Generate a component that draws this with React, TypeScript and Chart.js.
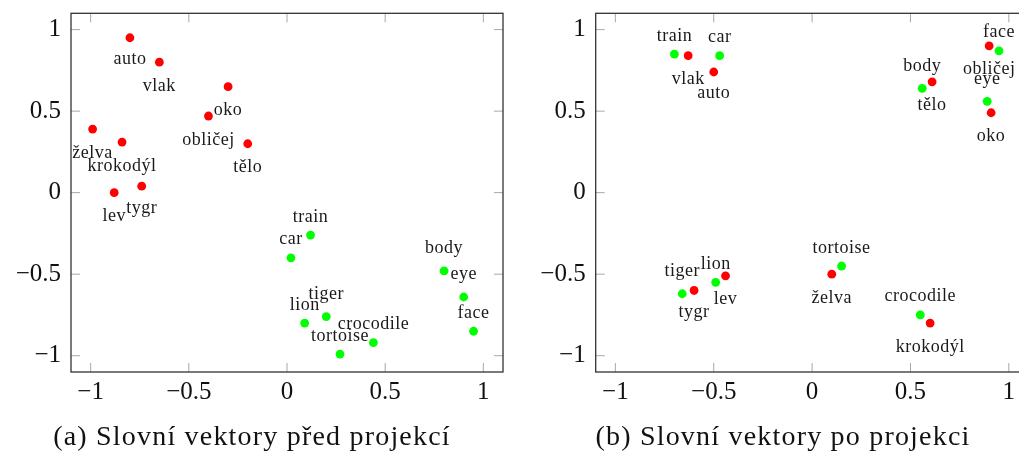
import React, { useEffect, useRef } from "react";
import { Chart, registerables } from "chart.js";

Chart.register(...registerables);

// ---- axis ticks ----
const tickValues = [-1, -0.5, 0, 0.5, 1];
const axisMin = -1.1;
const axisMax = 1.1;

// ---- (a) word vectors before projection ----
const beforeCzechWords = ["auto", "vlak", "oko", "obličej", "tělo", "želva", "krokodýl", "lev", "tygr"];
const beforeCzechX = [-0.8, -0.65, -0.3, -0.4, -0.2, -0.99, -0.84, -0.88, -0.74];
const beforeCzechY = [0.95, 0.8, 0.65, 0.47, 0.3, 0.39, 0.31, 0.0, 0.04];

const beforeEnglishWords = ["train", "car", "body", "eye", "face", "lion", "tiger", "crocodile", "tortoise"];
const beforeEnglishX = [0.12, 0.02, 0.8, 0.9, 0.95, 0.09, 0.2, 0.44, 0.27];
const beforeEnglishY = [-0.26, -0.4, -0.48, -0.64, -0.85, -0.8, -0.76, -0.92, -0.99];

// ---- (b) word vectors after projection ----
const afterCzechWords = ["vlak", "auto", "tělo", "obličej", "oko", "tygr", "lev", "želva", "krokodýl"];
const afterCzechX = [-0.63, -0.5, 0.61, 0.9, 0.91, -0.6, -0.44, 0.1, 0.6];
const afterCzechY = [0.84, 0.74, 0.68, 0.9, 0.49, -0.6, -0.51, -0.5, -0.8];

const afterEnglishWords = ["train", "car", "body", "face", "eye", "tiger", "lion", "tortoise", "crocodile"];
const afterEnglishX = [-0.7, -0.47, 0.56, 0.95, 0.89, -0.66, -0.49, 0.15, 0.55];
const afterEnglishY = [0.85, 0.84, 0.64, 0.87, 0.56, -0.62, -0.55, -0.45, -0.75];

const captionA = "(a) Slovní vektory před projekcí";
const captionB = "(b) Slovní vektory po projekci";

const SERIF = "'Liberation Serif', 'Times New Roman', serif";
const RED = "#ff0000";
const GREEN = "#00ff00";

const fmtTick = (v: number | string) => {
  const n = Number(v);
  return n < 0 ? "\u2212" + String(Math.abs(n)) : String(n);
};

const framePlugin = {
  id: "frame",
  beforeDatasetsDraw(chart: any) {
    const { ctx, chartArea: a, scales } = chart;
    ctx.save();
    ctx.strokeStyle = "#a8a8a8";
    ctx.lineWidth = 1;
    const L = 9;
    const seg = (x1: number, y1: number, x2: number, y2: number) => {
      ctx.beginPath();
      ctx.moveTo(x1, y1);
      ctx.lineTo(x2, y2);
      ctx.stroke();
    };
    for (const v of tickValues) {
      const x = scales.x.getPixelForValue(v);
      seg(x, a.bottom, x, a.bottom - L);
      seg(x, a.top, x, a.top + L);
      const y = scales.y.getPixelForValue(v);
      seg(a.left, y, a.left + L, y);
      seg(a.right, y, a.right - L, y);
    }
    ctx.strokeStyle = "#333333";
    ctx.lineWidth = 1.3;
    ctx.strokeRect(a.left, a.top, a.right - a.left, a.bottom - a.top);
    ctx.restore();
  },
};

const labelPlugin = {
  id: "wordLabels",
  afterDatasetsDraw(chart: any) {
    const { ctx } = chart;
    ctx.save();
    ctx.font = `18px ${SERIF}`;
    try {
      (ctx as any).letterSpacing = "0.5px";
    } catch (e) {}
    ctx.fillStyle = "#1a1a1a";
    ctx.textAlign = "center";
    ctx.textBaseline = "alphabetic";
    chart.data.datasets.forEach((ds: any, di: number) => {
      const meta = chart.getDatasetMeta(di);
      meta.data.forEach((pt: any, i: number) => {
        const text = ds.words[i];
        const m = ctx.measureText(text);
        let y;
        if (ds.labelSide === "below") {
          y = pt.y + 15.5 + m.actualBoundingBoxAscent;
        } else {
          y = pt.y - 13.5 - m.actualBoundingBoxDescent;
        }
        ctx.fillText(text, pt.x, y);
      });
    });
    ctx.restore();
  },
};

type PanelProps = {
  canvasLeft: number;
  canvasWidth: number;
  yAxisWidth: number;
  rightPad: number;
  czechWords: string[];
  czechX: number[];
  czechY: number[];
  englishWords: string[];
  englishX: number[];
  englishY: number[];
  caption: string;
  captionCenter: number;
};

const CANVAS_H = 459;
const PLOT_TOP = 13.3;
const PLOT_BOTTOM = 372;

function Panel(p: PanelProps) {
  const ref = useRef<HTMLCanvasElement | null>(null);
  useEffect(() => {
    if (!ref.current) return;
    const toPts = (xs: number[], ys: number[]) => xs.map((x, i) => ({ x, y: ys[i] }));
    const tickFont = { family: SERIF, size: 25 };
    const chart = new Chart(ref.current, {
      type: "scatter",
      data: {
        datasets: [
          {
            label: "cs",
            data: toPts(p.czechX, p.czechY),
            words: p.czechWords,
            labelSide: "below",
            pointRadius: 4.4,
            pointBackgroundColor: RED,
            pointBorderWidth: 0,
            borderColor: RED,
          } as any,
          {
            label: "en",
            data: toPts(p.englishX, p.englishY),
            words: p.englishWords,
            labelSide: "above",
            pointRadius: 4.4,
            pointBackgroundColor: GREEN,
            pointBorderWidth: 0,
            borderColor: GREEN,
          } as any,
        ],
      },
      options: {
        animation: false,
        responsive: false,
        maintainAspectRatio: false,
        events: [],
        layout: { padding: { left: 0, top: PLOT_TOP, right: p.rightPad, bottom: 0 } },
        plugins: { legend: { display: false }, tooltip: { enabled: false }, title: { display: false } },
        scales: {
          x: {
            type: "linear",
            min: axisMin,
            max: axisMax,
            afterBuildTicks: (s: any) => {
              s.ticks = tickValues.map((v) => ({ value: v }));
            },
            afterFit: (s: any) => {
              s.height = CANVAS_H - PLOT_BOTTOM;
              s.paddingLeft = 0;
              s.paddingRight = 0;
            },
            grid: { display: false, drawTicks: false },
            border: { display: false },
            ticks: { font: tickFont, color: "#111", padding: 5, maxRotation: 0, autoSkip: false, callback: fmtTick },
          },
          y: {
            type: "linear",
            min: axisMin,
            max: axisMax,
            afterBuildTicks: (s: any) => {
              s.ticks = tickValues.map((v) => ({ value: v }));
            },
            afterFit: (s: any) => {
              s.width = p.yAxisWidth;
              s.paddingTop = 0;
              s.paddingBottom = 0;
            },
            grid: { display: false, drawTicks: false },
            border: { display: false },
            ticks: { font: tickFont, color: "#111", padding: 10, autoSkip: false, callback: fmtTick },
          },
        },
      } as any,
      plugins: [framePlugin, labelPlugin],
    });
    return () => chart.destroy();
  }, []);
  return (
    <>
      <canvas
        ref={ref}
        width={p.canvasWidth}
        height={CANVAS_H}
        style={{ position: "absolute", left: p.canvasLeft, top: 0, width: p.canvasWidth, height: CANVAS_H }}
      />
      <div
        style={{
          position: "absolute",
          left: p.captionCenter - 300,
          width: 600,
          top: 422,
          textAlign: "center",
          fontFamily: SERIF,
          fontSize: 28,
          lineHeight: "28px",
          letterSpacing: "1.2px",
          color: "#111",
          whiteSpace: "nowrap",
        }}
      >
        {p.caption}
      </div>
    </>
  );
}

export default function App() {
  return (
    <div
      style={{
        position: "fixed",
        left: 0,
        top: 0,
        width: 1019,
        height: 459,
        overflow: "hidden",
        background: "#fff",
      }}
    >
      <Panel
        canvasLeft={0}
        canvasWidth={520}
        yAxisWidth={71}
        rightPad={17}
        czechWords={beforeCzechWords}
        czechX={beforeCzechX}
        czechY={beforeCzechY}
        englishWords={beforeEnglishWords}
        englishX={beforeEnglishX}
        englishY={beforeEnglishY}
        caption={captionA}
        captionCenter={252}
      />
      <Panel
        canvasLeft={540}
        canvasWidth={500}
        yAxisWidth={55.7}
        rightPad={11.5}
        czechWords={afterCzechWords}
        czechX={afterCzechX}
        czechY={afterCzechY}
        englishWords={afterEnglishWords}
        englishX={afterEnglishX}
        englishY={afterEnglishY}
        caption={captionB}
        captionCenter={783}
      />
    </div>
  );
}
